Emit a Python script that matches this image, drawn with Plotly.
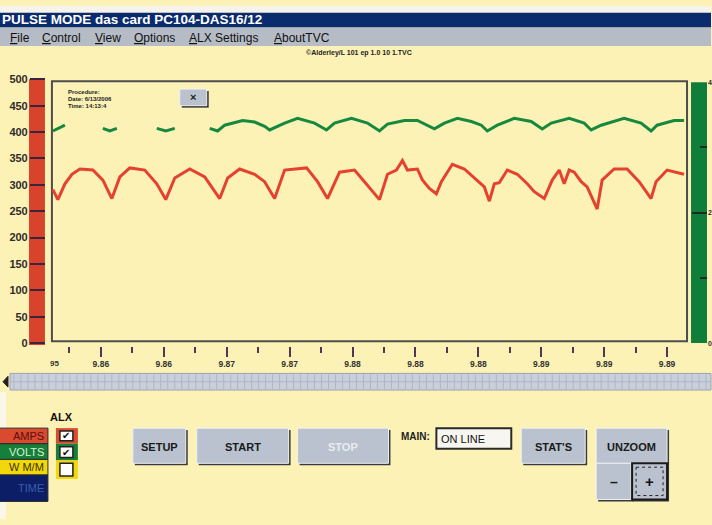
import plotly.graph_objects as go

# ---------------- data ----------------
# x in tick units (1 = first "9.86" tick), y in the left-axis units
red_x = [0.238, 0.317, 0.429, 0.540, 0.667, 0.873, 1.032, 1.175, 1.302, 1.460,
         1.698, 1.889, 2.032, 2.175, 2.413, 2.651, 2.889, 3.016, 3.206, 3.444,
         3.603, 3.762, 3.921, 4.270, 4.444, 4.603, 4.794, 5.032, 5.190, 5.429,
         5.556, 5.698, 5.794, 5.873, 6.032, 6.111, 6.222, 6.333, 6.413, 6.587,
         6.778, 6.984, 7.095, 7.175, 7.254, 7.333, 7.460, 7.619, 7.778, 7.889,
         8.048, 8.175, 8.286, 8.365, 8.444, 8.524, 8.635, 8.730, 8.889, 8.968,
         9.159, 9.365, 9.556, 9.746, 9.825, 10.000, 10.159, 10.270]
red_y = [291, 272, 302, 320, 330, 328, 309, 274, 315, 332,
         328, 302, 272, 313, 330, 315, 274, 313, 330, 320,
         306, 274, 328, 332, 306, 274, 324, 328, 306, 272,
         320, 328, 346, 328, 330, 309, 293, 283, 306, 339,
         330, 309, 296, 269, 302, 304, 328, 320, 302, 287,
         274, 309, 328, 302, 328, 324, 306, 296, 254, 309,
         330, 330, 306, 274, 306, 328, 324, 320]

green_x = [0.238, 0.317, 0.429, None, 1.032, 1.143, 1.254, None, 1.889, 2.032,
           2.175, None, 2.730, 2.857, 2.968, 3.254, 3.444, 3.603, 3.683, 3.921,
           4.127, 4.397, 4.587, 4.714, 4.984, 5.238, 5.429, 5.556, 5.825, 6.032,
           6.302, 6.460, 6.667, 6.889, 7.048, 7.143, 7.302, 7.571, 7.841, 8.016,
           8.159, 8.444, 8.683, 8.794, 8.952, 9.317, 9.587, 9.746, 9.841, 10.111,
           10.270]
green_y = [402, 406, 413, None, 407, 402, 407, None, 407, 402,
           407, None, 407, 402, 413, 422, 419, 411, 404, 417,
           426, 417, 404, 417, 426, 417, 402, 415, 422, 422,
           406, 417, 426, 420, 413, 402, 413, 426, 420, 406,
           417, 426, 417, 404, 413, 426, 417, 402, 413, 422,
           422]

x_tick_vals = [1, 2, 3, 4, 5, 6, 7, 8, 9, 10]
x_tick_text = ["9.86", "9.86", "9.87", "9.87", "9.88", "9.88", "9.88", "9.89", "9.89", "9.89"]
x_minor_vals = [0.5, 1.5, 2.5, 3.5, 4.5, 5.5, 6.5, 7.5, 8.5, 9.5]
y_tick_vals = [0, 50, 100, 150, 200, 250, 300, 350, 400, 450, 500]
y_tick_text = ["0", "50", "100", "150", "200", "250", "300", "350", "400", "450", "500"]
y2_tick_vals = [0, 2, 4]
y2_tick_text = ["0", "2", "4"]
y2_minor_vals = [1, 3]

menu_items = ["<u>F</u>ile", "<u>C</u>ontrol", "<u>V</u>iew", "<u>O</u>ptions", "<u>A</u>LX Settings", "<u>A</u>boutTVC"]
legend_labels = ["AMPS", "VOLTS", "W M/M", "TIME"]

# ---------------- layout helpers (paper pixels) ----------------
W, H = 712, 525
def PX(x): return x / W
def PY(y): return 1 - y / H

BG = "#fdf2b6"
shapes = []
annos = []

def rect(x0, y0, x1, y1, fill=None, line=None, lw=0, dash="solid"):
    shapes.append(dict(type="rect", xref="paper", yref="paper",
                       x0=PX(x0), x1=PX(x1), y0=PY(y0), y1=PY(y1),
                       fillcolor=fill if fill else "rgba(0,0,0,0)",
                       line=dict(color=line if line else "rgba(0,0,0,0)", width=lw, dash=dash),
                       layer="below"))

def txt(x, y, s, size=10, color="#111", xanchor="left", weight="normal", family="Liberation Sans"):
    annos.append(dict(x=PX(x), y=PY(y), xref="paper", yref="paper", text=s, showarrow=False,
                      xanchor=xanchor, yanchor="middle",
                      font=dict(size=size, color=color, family=family, weight=weight)))

def button(x0, y0, x1, y1, label, color="#1a1a1a", size=11):
    rect(x0 + 2, y0 + 2, x1 + 2, y1 + 2, fill="#3a3a3a")
    rect(x0, y0, x1, y1, fill="#b9c2ce", line="#eef1f5", lw=1)
    txt((x0 + x1) / 2, (y0 + y1) / 2 + 1, label, size=size, color=color, xanchor="center", weight="bold")

# window chrome
rect(0, 0, 712, 7, fill="#f6f3ec")
rect(0, 7, 712, 22, fill="#0b2b6f")
rect(0, 22, 712, 41, fill="#b5bcc6")
rect(0, 395, 6, 525, fill="#faf6e8")
txt(0, 14, "PULSE MODE das card PC104-DAS16/12", size=13.5, color="#ffffff", weight="bold")
for xm, m in zip([8, 40, 93, 132, 187, 272], menu_items):
    txt(xm, 33, m, size=12, color="#111")
txt(360, 48, "©Alderley/L 101 ep 1.0 10 1.TVC", size=7, color="#222", xanchor="center", weight="bold")

# axis bars and frame
rect(29, 75, 45, 347, fill="#d8432b")
rect(692, 78, 708, 345, fill="#0f7e3b")
rect(52, 77, 688, 343, fill=BG, line="#4d4d4d", lw=2)

# frame inner info
txt(66, 88, "Procedure:", size=6, color="#222", weight="bold")
txt(66, 95, "Date: 6/13/2006", size=6, color="#222", weight="bold")
txt(66, 102, "Time: 14:13:4", size=6, color="#222", weight="bold")
rect(182, 87, 209, 104, fill="#333333")
rect(180, 85, 207, 102, fill="#b9c2ce", line="#eef1f5", lw=1)
txt(193.5, 93, "×", size=11, color="#222", xanchor="center", weight="bold")

# scrollbar
rect(10, 376, 712, 393, fill="#c9d0dc", line="#9aa3b3", lw=1)
path = ""
xg = 14
while xg < 712:
    path += "M%.5f,%.5f V%.5f " % (PX(xg), PY(377), PY(392))
    xg += 7
path += "M%.5f,%.5f H%.5f" % (PX(10), PY(384.5), PX(712))
shapes.append(dict(type="path", xref="paper", yref="paper", path=path,
                   line=dict(color="#aeb6c6", width=1), layer="below"))
shapes.append(dict(type="path", xref="paper", yref="paper",
                   path="M%.5f,%.5f L%.5f,%.5f L%.5f,%.5f Z" % (PX(3), PY(384.5), PX(8), PY(379), PX(8), PY(390)),
                   fillcolor="#222", line=dict(color="#222", width=1), layer="below"))

# legend blocks
blk = [(432, 448, "#d94a2e", "#5a0f0f"), (448, 464, "#16803a", "#d8f0d8"),
       (464, 480, "#f2d80a", "#3a3000"), (480, 507, "#0c1f66", "#3a5cb0")]
for (y0, y1, fc, tc), lab in zip(blk, legend_labels):
    rect(-2, y0, 48, y1, fill=fc, line="#2a2a2a", lw=1)
    txt(46, (y0 + y1) / 2, lab, size=11, color=tc, xanchor="right")
txt(62, 421, "ALX", size=11, color="#111", xanchor="center", weight="bold")
cb = [(432, 448, "#d94a2e", True), (448, 465, "#16803a", True), (465, 484, "#f2d80a", False)]
for y0, y1, fc, chk in cb:
    rect(56, y0, 78, y1, fill=fc)
    rect(60, y0 + 3, 73, y1 - 3, fill="#ffffff", line="#222", lw=1.5)
    if chk:
        txt(66.5, (y0 + y1) / 2, "✔", size=10, color="#111", xanchor="center")

# buttons
button(133, 432, 186, 468, "SETUP")
button(197, 432, 289, 468, "START")
button(298, 432, 389, 468, "STOP", color="#e8ecf2")
button(522, 432, 586, 468, "STAT'S")
button(597, 432, 668, 468, "UNZOOM")
button(597, 468, 632, 505, "–", size=14)
rect(633, 468, 670, 507, fill="#3a3a3a")
rect(633, 468, 668, 505, fill="#b9c2ce", line="#1a1a1a", lw=2)
rect(637, 472, 664, 501, line="#222", lw=1, dash="dot")
txt(650.5, 487, "+", size=15, color="#111", xanchor="center", weight="bold")
txt(400, 441, "MAIN:", size=10, color="#222", weight="bold")
rect(437, 432, 512, 453, fill="#f8f6f0", line="#2a2a2a", lw=2)
txt(440, 443, "ON LINE", size=11, color="#111")

# "95" partial tick label
annos.append(dict(x=0.27, y=PY(366), xref="x", yref="paper", text="95", showarrow=False,
                  xanchor="center", yanchor="middle",
                  font=dict(size=8, color="#333", family="Liberation Sans", weight="bold")))

fig = go.Figure()
fig.add_trace(go.Scatter(x=red_x, y=red_y, mode="lines", line=dict(color="#e5412f", width=3),
                         showlegend=False, hoverinfo="skip"))
fig.add_trace(go.Scatter(x=green_x, y=green_y, mode="lines", line=dict(color="#17893f", width=3),
                         connectgaps=False, showlegend=False, hoverinfo="skip"))
fig.add_trace(go.Scatter(x=[None], y=[None], yaxis="y2", showlegend=False, hoverinfo="skip"))

fig.update_layout(
    width=W, height=H, margin=dict(l=0, r=0, t=0, b=0),
    paper_bgcolor=BG, plot_bgcolor="rgba(0,0,0,0)",
    shapes=shapes, annotations=annos,
    xaxis=dict(domain=[PX(52), PX(688)], range=[(52 - 38) / 63, (688 - 38) / 63],
               anchor="free", position=PY(348), showline=False, showgrid=False, zeroline=False,
               tickmode="array", tickvals=x_tick_vals, ticktext=x_tick_text,
               ticks="outside", ticklen=10, tickwidth=2, tickcolor="#4a3a55",
               tickfont=dict(size=8.5, color="#333", family="Liberation Sans", weight="bold"),
               minor=dict(tickmode="array", tickvals=x_minor_vals, ticks="outside",
                          ticklen=6, tickwidth=2, tickcolor="#4a3a55")),
    yaxis=dict(domain=[PY(345), PY(75)], range=[0, 500], anchor="free", position=PX(45),
               showline=False, showgrid=False, zeroline=False,
               tickmode="array", tickvals=y_tick_vals, ticktext=y_tick_text,
               ticks="outside", ticklen=15, tickwidth=2, tickcolor="#3b2440",
               tickfont=dict(size=11, color="#2f2a2a", family="Liberation Sans", weight="bold")),
    yaxis2=dict(domain=[PY(345), PY(78)], range=[0, 4], anchor="free", position=PX(708), side="right",
                showline=False, showgrid=False, zeroline=False,
                tickmode="array", tickvals=y2_tick_vals, ticktext=y2_tick_text,
                ticks="inside", ticklen=15, tickwidth=2, tickcolor="#1f2a22",
                tickfont=dict(size=7, color="#2f2a2a", family="Liberation Sans", weight="bold"),
                minor=dict(tickmode="array", tickvals=y2_minor_vals, ticks="inside",
                           ticklen=7, tickwidth=2, tickcolor="#1f2a22")),
)

fig.write_html("out.html", config={"displayModeBar": False},
               post_script="document.body.style.margin='0px';document.body.style.overflow='hidden';")
